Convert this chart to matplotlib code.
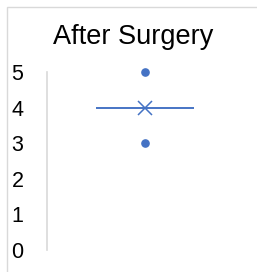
import numpy as np
import matplotlib.pyplot as plt
from matplotlib.patches import Rectangle

# data
# ---
scores_after = [3, 4, 4, 4, 5]
title = 'After Surgery'
yticks = [0, 1, 2, 3, 4, 5]

blue = '#4472C4'

plt.rcParams['font.family'] = ['Liberation Sans', 'DejaVu Sans']

fig = plt.figure(figsize=(2.57, 2.72), dpi=100)
ax = fig.add_axes([47/257, 22/272, 196/257, 178/272])

bp = ax.boxplot([scores_after], positions=[0], widths=0.5, showmeans=True,
                patch_artist=True,
                boxprops=dict(facecolor='none', edgecolor=blue, linewidth=1.1),
                medianprops=dict(color=blue, linewidth=1.2),
                meanprops=dict(marker='x', markeredgecolor=blue, markersize=10, markeredgewidth=1.1),
                whiskerprops=dict(color=blue), capprops=dict(color=blue, linewidth=0),
                flierprops=dict(marker='o', markerfacecolor=blue, markeredgecolor=blue, markersize=5.2))
for f in bp['fliers']:
    f.set_clip_on(False)

ax.set_xlim(-0.5, 0.5)
ax.set_ylim(0, 5)
ax.set_yticks(yticks)
ax.set_xticks([])
ax.tick_params(axis='y', length=0, pad=17, labelsize=15.5)
for s in ['top', 'right', 'bottom']:
    ax.spines[s].set_visible(False)
ax.spines['left'].set_color('#D9D9D9')
ax.spines['left'].set_linewidth(1.2)

fig.text(133/257, 1 - 37/272, title, ha='center', va='center', fontsize=19.5)

# chart border
fig.patches.append(Rectangle((7/257, -0.1), 1.2, 1 - 7/272 + 0.1, transform=fig.transFigure,
                             facecolor='none', edgecolor='#D9D9D9', linewidth=1))

fig.savefig('out.png', dpi=100)
